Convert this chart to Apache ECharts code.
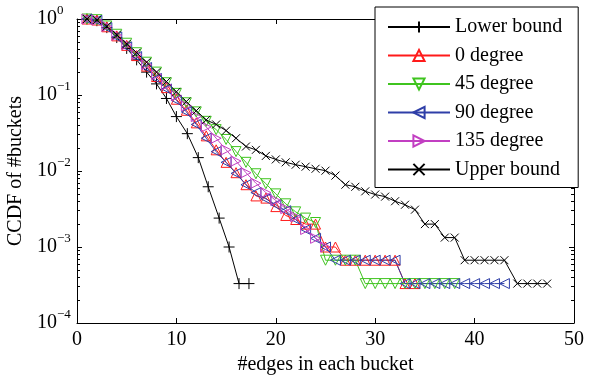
<!DOCTYPE html>
<html><head><meta charset="utf-8">
<script src="https://cdn.jsdelivr.net/npm/echarts@6/dist/echarts.min.js"></script>
<style>html,body{margin:0;padding:0;background:#fff}#c{width:595px;height:378px}</style>
</head><body><div id="c"></div>
<script>
// ---- data ----
const xTickValues = [0, 10, 20, 30, 40, 50];
const yMinorTicks = [2e-4,3e-4,4e-4,5e-4,6e-4,7e-4,8e-4,9e-4,2e-3,3e-3,4e-3,5e-3,6e-3,7e-3,8e-3,9e-3,0.02,0.03,0.04,0.05,0.06,0.07,0.08,0.09,0.2,0.3,0.4,0.5,0.6,0.7,0.8,0.9];

const lowerX = [1,2,3,4,5,6,7,8,9,10,11.1,12.2,13.2,14.3,15.3,16.3,17.3];
const lowerY = [1.0,0.95,0.77,0.57,0.41,0.29,0.2,0.14,0.09,0.052,0.031,0.015,0.0062,0.0024,0.001,0.00033,0.00033];

const deg0X = [1,2,3,4,5,6,7,8,9,10,11,12,13,14,15,16,17,18,19,20,21,22,23,24,25,26,27,28,29,30,31,32,33,34];
const deg0Y = [1.0,0.97,0.79,0.6,0.45,0.33,0.24,0.175,0.125,0.088,0.063,0.043,0.029,0.019,0.013,0.0095,0.0066,0.0047,0.0044,0.0034,0.0026,0.0023,0.002,0.002,0.001,0.001,0.00067,0.00067,0.00067,0.00067,0.00067,0.00067,0.00033,0.00033];

const deg45X = [1,2,3,4,5,6,7,8,9,10,11,12,13,14,15,16,17,18,19,20,21,22,23,24,25,26,27,28,29,30,31,32,33,34,35,36,37,38];
const deg45Y = [1.0,0.98,0.81,0.63,0.48,0.36,0.27,0.2,0.145,0.105,0.079,0.06,0.045,0.035,0.026,0.018,0.013,0.0092,0.0068,0.005,0.0037,0.0029,0.0024,0.0021,0.00067,0.00067,0.00067,0.00067,0.00033,0.00033,0.00033,0.00033,0.00033,0.00033,0.00033,0.00033,0.00033,0.00033];

const deg90X = [1,2,3,4,5,6,7,8,9,10,11,12,13,14,15,16,17,18,19,20,21,22,23,24,25,26,27,28,29,30,31,32,33,34,35,36,37,38,39,40,41,42,43];
const deg90Y = [1.0,0.96,0.77,0.58,0.43,0.32,0.23,0.165,0.12,0.085,0.06,0.041,0.027,0.018,0.013,0.0093,0.0066,0.0052,0.0043,0.0036,0.003,0.0023,0.0017,0.0013,0.001,0.00067,0.00067,0.00067,0.00067,0.00067,0.00067,0.00067,0.00033,0.00033,0.00033,0.00033,0.00033,0.00033,0.00033,0.00033,0.00033,0.00033,0.00033];

const deg135X = [1,2,3,4,5,6,7,8,9,10,11,12,13,14,15,16,17,18,19,20,21,22,23,24,25];
const deg135Y = [1.0,0.97,0.8,0.61,0.46,0.34,0.25,0.185,0.135,0.098,0.072,0.052,0.038,0.027,0.019,0.0135,0.0095,0.0069,0.0052,0.0041,0.0032,0.0025,0.0017,0.0013,0.001];

const upperX = [1,2,3,4,5,6,7,8,9,10,11,12,13,14,15,16,17,18,19,20,21,22,23,24,25,26,27,28,29,30,31,32,33,34,35,36,37,38,39,40,41,42,43,44.3,45.3,46.3,47.3];
const upperY = [1.0,0.97,0.8,0.62,0.47,0.36,0.27,0.2,0.15,0.11,0.082,0.062,0.047,0.041,0.034,0.027,0.021,0.019,0.0158,0.0142,0.013,0.0121,0.0114,0.0107,0.0101,0.0087,0.0066,0.0062,0.0054,0.0049,0.0046,0.004,0.0036,0.0031,0.002,0.002,0.00133,0.00133,0.00067,0.00067,0.00067,0.00067,0.00067,0.00033,0.00033,0.00033,0.00033];

const seriesNames = ['Lower bound','0 degree','45 degree','90 degree','135 degree','Upper bound'];

// ---- chart ----
const FONT = 'Liberation Serif';
const PLUS = 'path://M0,5L10,5M5,0L5,10';
const CROSS = 'path://M0,0L10,10M10,0L0,10';

function zip(xs, ys) { return xs.map((x, i) => [x, ys[i]]); }
function mk(name, xs, ys, color, symbol, rot, size) {
  return {
    name: name, type: 'line', data: zip(xs, ys),
    symbol: symbol, symbolSize: size, symbolRotate: rot,
    showSymbol: true, showAllSymbol: true,
    lineStyle: { color: color, width: 1 },
    itemStyle: { color: 'transparent', borderColor: color, borderWidth: 1 },
    emphasis: { disabled: true }, z: 2
  };
}

const chart = echarts.init(document.getElementById('c'), null, { renderer: 'canvas' });
const axisLineStyle = { show: true, lineStyle: { color: '#000', width: 1 } };
const yLogBase = { type: 'log', logBase: 10, min: 1e-4, max: 1, splitLine: { show: false } };

chart.setOption({
  animation: false,
  backgroundColor: '#fff',
  grid: { left: 77, right: 21, top: 19, bottom: 55, containLabel: false, outerBoundsMode: 'none' },
  legend: {
    data: seriesNames, orient: 'vertical', left: 375, top: 7,
    itemWidth: 62, itemHeight: 14, itemGap: 8.5,
    padding: [10, 16, 8, 12],
    backgroundColor: '#fff', borderColor: '#000', borderWidth: 1,
    textStyle: { fontFamily: FONT, fontSize: 20, color: '#000', padding: [0, 0, 0, 0] },
    selectedMode: false
  },
  xAxis: [
    { type: 'value', min: 0, max: 50, interval: 10, position: 'bottom',
      axisLine: axisLineStyle, splitLine: { show: false },
      axisTick: { inside: true, length: 5, lineStyle: { color: '#000' } },
      axisLabel: { fontFamily: FONT, fontSize: 20, color: '#000', margin: 7,
        customValues: xTickValues },
      name: '#edges in each bucket', nameLocation: 'middle', nameGap: 30,
      nameTextStyle: { fontFamily: FONT, fontSize: 20, color: '#000' } },
    { type: 'value', min: 0, max: 50, interval: 10, position: 'top',
      axisLine: axisLineStyle, splitLine: { show: false },
      axisTick: { inside: true, length: 5, lineStyle: { color: '#000' } },
      axisLabel: { show: false } }
  ],
  yAxis: [
    Object.assign({}, yLogBase, { position: 'left',
      axisLine: axisLineStyle,
      axisTick: { inside: true, length: 5, lineStyle: { color: '#000' } },
      axisLabel: { align: 'left', margin: 40,
        formatter: function (v) { const e = Math.round(Math.log10(v)); return '{b|10}{s|' + (e < 0 ? '\u2212' + (-e) : e) + '}'; },
        rich: {
          b: { fontFamily: FONT, fontSize: 20, color: '#000' },
          s: { fontFamily: FONT, fontSize: 13, color: '#000', padding: [0, 0, 16, 0] }
        } },
      name: 'CCDF of #buckets', nameLocation: 'middle', nameGap: 43, nameRotate: 90,
      nameTextStyle: { fontFamily: FONT, fontSize: 20, color: '#000' } }),
    Object.assign({}, yLogBase, { position: 'left',
      axisLine: { show: false },
      axisTick: { inside: true, length: 3, customValues: yMinorTicks, lineStyle: { color: '#000' } },
      axisLabel: { show: false } }),
    Object.assign({}, yLogBase, { position: 'right',
      axisLine: axisLineStyle,
      axisTick: { inside: true, length: 5, lineStyle: { color: '#000' } },
      axisLabel: { show: false } }),
    Object.assign({}, yLogBase, { position: 'right',
      axisLine: { show: false },
      axisTick: { inside: true, length: 3, customValues: yMinorTicks, lineStyle: { color: '#000' } },
      axisLabel: { show: false } })
  ],
  series: [
    mk(seriesNames[0], lowerX, lowerY, '#000000', PLUS, 0, 11),
    mk(seriesNames[1], deg0X, deg0Y, '#ff1a1a', 'triangle', 0, 10),
    mk(seriesNames[2], deg45X, deg45Y, '#3fc41f', 'triangle', 180, 10),
    mk(seriesNames[3], deg90X, deg90Y, '#2f3fa8', 'triangle', 90, 10),
    mk(seriesNames[4], deg135X, deg135Y, '#c23fc2', 'triangle', -90, 10),
    mk(seriesNames[5], upperX, upperY, '#000000', CROSS, 0, 8)
  ]
});
</script>
</body></html>
